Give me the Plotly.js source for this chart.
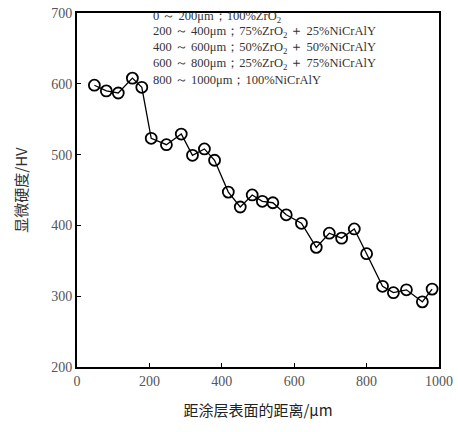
<!DOCTYPE html>
<html><head><meta charset="utf-8">
<script src="https://cdn.plot.ly/plotly-3.0.1.min.js"></script>
<style>body{margin:0;background:#fff}#c{width:458px;height:432px}</style>
</head><body><div id="c"></div>
<script>
const distance = [48, 81, 114, 153, 179, 205, 247, 288, 319, 352, 380, 418, 451, 484, 512, 541, 578, 620, 661, 697, 731, 766, 800, 844, 874, 910, 954, 981];
const hardness = [598, 590, 587, 608, 595, 523, 514, 529, 499, 508, 492, 447, 426, 443, 434, 432, 415, 403, 369, 389, 382, 395, 360, 314, 305, 309, 292, 310];
const xTicks = [0, 200, 400, 600, 800, 1000];
const yTicks = [200, 300, 400, 500, 600, 700];
const legendLines = [
  "0 ～ 200μm；100%ZrO<sub>2</sub>",
  "200 ～ 400μm；75%ZrO<sub>2</sub> ＋ 25%NiCrAlY",
  "400 ～ 600μm；50%ZrO<sub>2</sub> ＋ 50%NiCrAlY",
  "600 ～ 800μm；25%ZrO<sub>2</sub> ＋ 75%NiCrAlY",
  "800 ～ 1000μm；100%NiCrAlY"
];
const serif = 'Liberation Serif';
const cjk = 'Noto Sans CJK SC';

const trace = {
  x: distance, y: hardness, type: 'scatter', mode: 'lines+markers',
  line: {color: '#000', width: 1.3},
  marker: {symbol: 'circle-open', size: 11, color: '#000', line: {width: 1.8, color: '#000'}},
  hoverinfo: 'skip', showlegend: false
};

const linePx = [17, 32, 48, 64, 80];
const annotations = legendLines.map((t, i) => ({
  xref: 'paper', yref: 'paper', x: (151 - 77) / 362, y: 1 - (linePx[i] - 13) / 354,
  xanchor: 'left', yanchor: 'middle',
  text: t, showarrow: false, align: 'left',
  font: {family: serif, size: 12.5, color: '#333'}
}));

const layout = {
  width: 458, height: 432,
  margin: {l: 77, r: 19, t: 13, b: 65},
  paper_bgcolor: '#fff', plot_bgcolor: '#fff',
  font: {family: serif, color: '#555'},
  xaxis: {
    range: [0, 1000], tickvals: xTicks, ticktext: xTicks.map(String),
    showline: true, mirror: true, linecolor: '#000', linewidth: 2,
    ticks: 'inside', ticklen: 4, tickcolor: '#000', showgrid: false, zeroline: false,
    tickfont: {family: serif, size: 14, color: '#555'},
    title: {text: '距涂层表面的距离/μm', font: {family: cjk, size: 15, color: '#222'}, standoff: 18}
  },
  yaxis: {
    range: [200, 700], tickvals: yTicks, ticktext: yTicks.map(String),
    showline: true, mirror: true, linecolor: '#000', linewidth: 2,
    ticks: 'inside', ticklen: 4, tickcolor: '#000', showgrid: false, zeroline: false,
    tickfont: {family: serif, size: 14, color: '#555'},
    title: {text: '显微硬度/HV', font: {family: cjk, size: 15, color: '#333'}, standoff: 20}
  },
  annotations: annotations
};
Plotly.newPlot('c', [trace], layout, {staticPlot: true, displayModeBar: false});
</script></body></html>
